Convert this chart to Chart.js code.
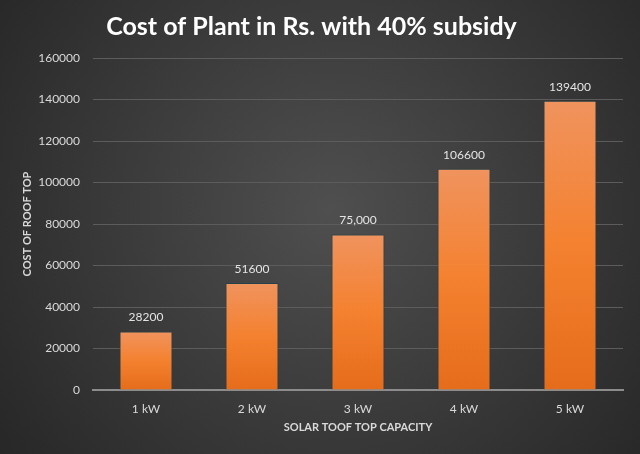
<!DOCTYPE html>
<html><head><meta charset="utf-8">
<script src="https://cdn.jsdelivr.net/npm/chart.js@4"></script>
<style>html,body{margin:0;padding:0;background:#333;overflow:hidden}</style>
</head><body>
<canvas id="c" width="640" height="454"></canvas>
<script>
const categories = ['1 kW', '2 kW', '3 kW', '4 kW', '5 kW'];
const costValues = [28200, 51600, 75000, 106600, 139400];
const valueLabels = ['28200', '51600', '75,000', '106600', '139400'];
const yMin = 0, yMax = 160000, yStep = 20000;
const chartTitle = 'Cost of Plant in Rs. with 40% subsidy';
const xTitle = 'SOLAR TOOF TOP CAPACITY';
const yTitle = 'COST OF ROOF TOP';

const FONT = "Lato, 'Open Sans', sans-serif";

const bgPlugin = {
  id: 'bg',
  beforeDraw(chart) {
    const {ctx, width, height} = chart;
    const g = ctx.createRadialGradient(330, 210, 0, 330, 210, 420);
    g.addColorStop(0, '#4f4f4f');
    g.addColorStop(1, '#262626');
    ctx.save();
    ctx.fillStyle = g;
    ctx.fillRect(0, 0, width, height);
    ctx.restore();
  }
};

const labelPlugin = {
  id: 'vlabels',
  afterDatasetsDraw(chart) {
    const {ctx} = chart;
    const meta = chart.getDatasetMeta(0);
    ctx.save();
    ctx.font = '12px ' + FONT;
    ctx.fillStyle = '#e4e4e4';
    ctx.textAlign = 'center';
    ctx.textBaseline = 'middle';
    meta.data.forEach((el, i) => {
      ctx.fillText(valueLabels[i], el.x, el.y - 14);
    });
    ctx.restore();
  }
};

function barGradient(c) {
  const chart = c.chart;
  if (!chart.chartArea || c.dataIndex === undefined) return '#f28036';
  const ys = chart.scales.y;
  const top = ys.getPixelForValue(costValues[c.dataIndex]);
  const bot = ys.getPixelForValue(0);
  const g = chart.ctx.createLinearGradient(0, top, 0, bot);
  g.addColorStop(0, '#f0935e');
  g.addColorStop(0.5, '#f4812f');
  g.addColorStop(1, '#e56c1b');
  return g;
}

new Chart(document.getElementById('c'), {
  type: 'bar',
  data: {
    labels: categories,
    datasets: [{
      data: costValues,
      backgroundColor: barGradient,
      borderColor: '#23424a',
      borderWidth: 1,
      categoryPercentage: 1,
      barPercentage: 0.5
    }]
  },
  options: {
    responsive: false,
    animation: false,
    layout: {padding: {left: 0, right: 17, top: 0, bottom: 0}},
    plugins: {
      legend: {display: false},
      tooltip: {enabled: false},
      title: {
        display: true,
        text: chartTitle,
        color: '#ffffff',
        font: {family: FONT, size: 25, weight: 'bold'},
        padding: {top: 12, bottom: 16}
      }
    },
    scales: {
      x: {
        grid: {display: false},
        border: {display: true, color: '#8c8c8c', width: 2},
        ticks: {color: '#d9d9d9', font: {family: FONT, size: 12}, padding: 4},
        title: {display: true, text: xTitle, color: '#d9d9d9',
                font: {family: FONT, size: 11, weight: 'bold'}, padding: {top: 0, bottom: 20}},
        afterFit(s) { s.height = 64; }
      },
      y: {
        min: yMin, max: yMax,
        grid: {color: '#5c5c5c', lineWidth: 1, drawTicks: false},
        border: {display: false},
        ticks: {stepSize: yStep, color: '#d9d9d9', font: {family: FONT, size: 12}, padding: 13,
                callback: v => String(v)},
        title: {display: true, text: yTitle, color: '#d9d9d9',
                font: {family: FONT, size: 11, weight: 'bold'}, padding: {top: 21, bottom: 0}},
        afterFit(s) { s.width = 93; }
      }
    }
  },
  plugins: [bgPlugin, labelPlugin]
});
</script>
</body></html>
